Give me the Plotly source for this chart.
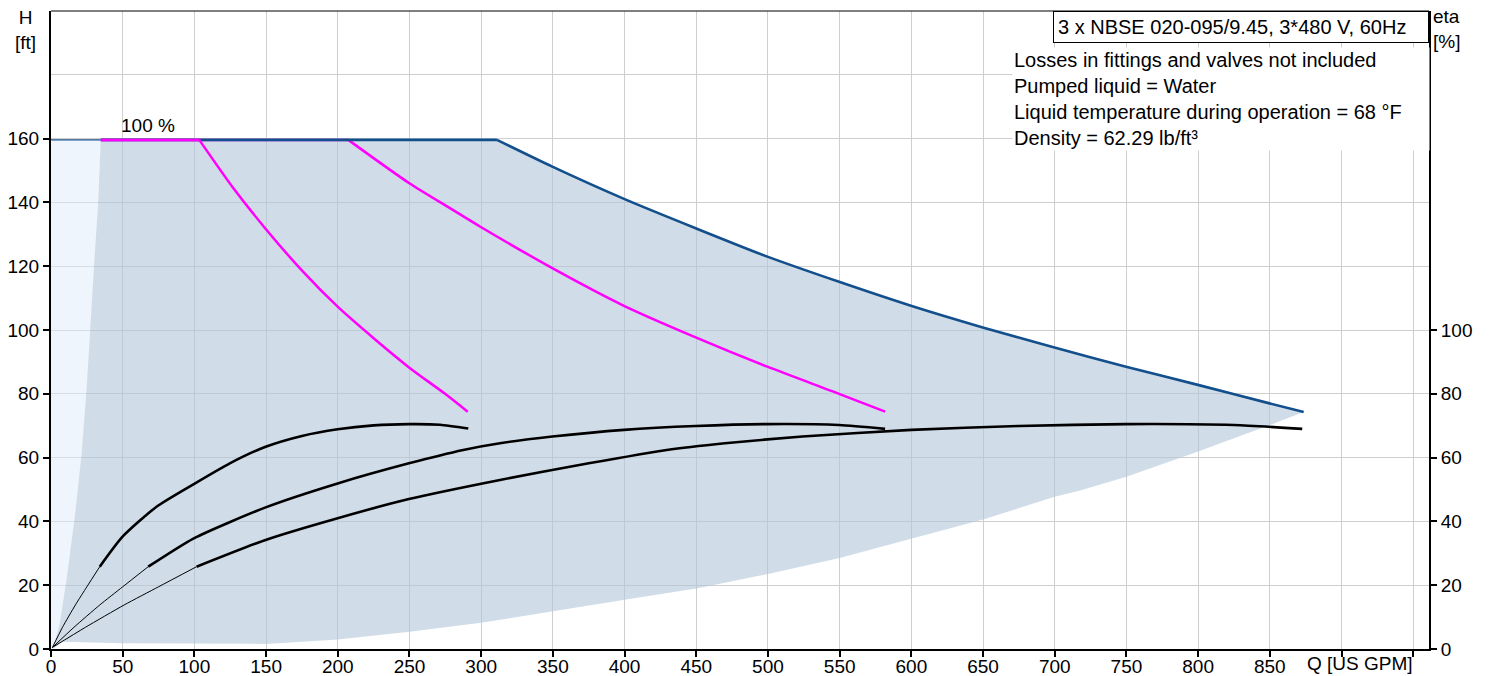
import plotly.graph_objects as go

# ---------------- data ----------------
# Max head curve, 3 pumps (dark blue)
q_max3 = [34.7, 311, 349.6, 399.6, 449.6, 499.6, 549.6, 599.7, 649.8, 699.8, 749.7, 799.8, 849.8, 873.6]
h_max3 = [159.6, 159.6, 151.2, 141.1, 131.9, 123.0, 115.1, 107.6, 100.8, 94.5, 88.5, 82.8, 77.0, 74.3]
q_max3_thin = [0, 34.7]
h_max3_thin = [159.6, 159.6]

# Head curves at 100 % speed, 1 and 2 pumps (magenta)
q_h1 = [34.7, 103.4, 127.1, 149.9, 175.9, 199.9, 224.8, 249.9, 274.8, 290.6]
h_h1 = [159.6, 159.6, 144.5, 131.6, 118.2, 107.3, 97.5, 88.2, 80.0, 74.4]
q_h2 = [34.7, 207.3, 249.9, 278.2, 299.7, 349.6, 399.6, 449.6, 499.6, 549.6, 581.7]
h_h2 = [159.6, 159.6, 146.0, 138.2, 132.3, 119.4, 107.6, 97.7, 88.5, 80.0, 74.4]

# Efficiency curves (eta, right axis): thin start + thick part
q_eta1_thin = [1, 8, 17, 25, 34]
e_eta1_thin = [0.5, 6.8, 13.8, 19.5, 25.8]
q_eta1 = [34, 49.9, 73.6, 99.6, 124.7, 149.7, 175, 199.9, 225, 249.6, 271.3, 291.0]
e_eta1 = [25.8, 35.2, 44.6, 51.7, 58.2, 63.4, 66.8, 68.9, 70.1, 70.5, 70.3, 69.1]

q_eta2_thin = [1, 16, 34, 50, 67.8]
e_eta2_thin = [0.5, 6.8, 13.8, 19.5, 25.8]
q_eta2 = [67.8, 99.6, 149.7, 199.9, 249.6, 287.5, 313.1, 349.6, 399.6, 449.6, 499.6, 549.6, 581.7]
e_eta2 = [25.8, 34.7, 44.4, 51.9, 58.2, 62.4, 64.5, 66.6, 68.7, 69.9, 70.5, 70.2, 69.0]

q_eta3_thin = [1, 24, 51, 75, 101.5]
e_eta3_thin = [0.5, 6.8, 13.8, 19.5, 25.8]
q_eta3 = [101.5, 149.7, 199.9, 249.6, 313.1, 375, 429.4, 470, 524, 600, 675, 750, 825, 872.6]
e_eta3 = [25.8, 34.2, 41.0, 47.0, 53.0, 58.2, 62.4, 64.5, 66.6, 68.7, 69.9, 70.5, 70.2, 69.0]

# Operating range (grey area): lower boundary (right to left) and left boundary (bottom to top)
q_low = [873.6, 850, 800, 750, 717, 700, 650, 592, 550, 500, 450, 400, 350, 300, 250, 200, 150, 100, 50, 8, 1.5]
h_low = [74.3, 70.2, 61.9, 54.0, 49.6, 47.7, 40.6, 33.6, 28.5, 23.5, 19.0, 15.4, 11.7, 8.2, 5.4, 3.0, 1.6, 1.6, 1.8, 2.3, 0]
q_left = [1.5, 6.1, 10.8, 16.6, 21.3, 24.7, 27.5, 30.6, 32.9, 34.7]
h_left = [0, 8.1, 21.6, 41.5, 61.0, 80.9, 100.7, 120.6, 140.4, 159.6]

# Axis ticks
x_ticks = list(range(0, 951, 50))
x_ticktext = [str(v) for v in range(0, 851, 50)] + ["", ""]
x_title = "Q [US GPM]"
y_ticks = list(range(0, 161, 20))
y2_ticks = list(range(0, 101, 20))

title_text = "3 x NBSE 020-095/9.45, 3*480 V, 60Hz"
info_lines = ["Losses in fittings and valves not included",
              "Pumped liquid = Water",
              "Liquid temperature during operation = 68 °F",
              "Density = 62.29 lb/ft³"]

# ---------------- figure ----------------
W, H = 1506, 676
ML, MR, MT, MB = 51, 77, 11, 27
PW, PH = W - ML - MR, H - MT - MB


def px2x(px):
    return (px - ML) / PW


def py2y(py):
    return (H - MB - py) / PH


FONT = "Liberation Sans, Arial, sans-serif"
BLUE = "#124f8c"
MAG = "#ff00ff"

fig = go.Figure()

# light blue area left of operating range
fig.add_trace(go.Scatter(
    x=[0, 0] + q_left[::-1], y=[0, h_max3_thin[0]] + h_left[::-1],
    fill="toself", fillcolor="rgba(221,235,251,0.5)", line=dict(width=0),
    mode="lines", hoverinfo="skip", showlegend=False))

# grey operating range
fig.add_trace(go.Scatter(
    x=q_max3 + q_low + q_left, y=h_max3 + h_low + h_left,
    fill="toself", fillcolor="rgba(177,197,215,0.6)", line=dict(width=0),
    mode="lines", hoverinfo="skip", showlegend=False))

# efficiency curves
for qt, et, q, e in [(q_eta1_thin, e_eta1_thin, q_eta1, e_eta1),
                     (q_eta2_thin, e_eta2_thin, q_eta2, e_eta2),
                     (q_eta3_thin, e_eta3_thin, q_eta3, e_eta3)]:
    fig.add_trace(go.Scatter(x=qt, y=et, yaxis="y2", mode="lines",
                             line=dict(color="black", width=1, shape="spline", smoothing=0.6),
                             showlegend=False))
    fig.add_trace(go.Scatter(x=q, y=e, yaxis="y2", mode="lines",
                             line=dict(color="black", width=2.6, shape="spline", smoothing=0.6),
                             showlegend=False))


def head_curve(q, h, color, width):
    # flat part (first two points) drawn straight, the falling part smoothed
    fig.add_trace(go.Scatter(x=q[:2], y=h[:2], mode="lines",
                             line=dict(color=color, width=width), showlegend=False))
    fig.add_trace(go.Scatter(x=q[1:], y=h[1:], mode="lines",
                             line=dict(color=color, width=width, shape="spline", smoothing=0.7),
                             showlegend=False))


head_curve(q_h2, h_h2, MAG, 2.5)
fig.add_trace(go.Scatter(x=q_max3_thin, y=h_max3_thin, mode="lines",
                         line=dict(color=BLUE, width=1.2), showlegend=False))
head_curve(q_max3, h_max3, BLUE, 2.6)
head_curve(q_h1, h_h1, MAG, 2.5)

axis_common = dict(showline=True, linecolor="black", linewidth=2,
                   ticks="outside", ticklen=6, tickwidth=2, tickcolor="black",
                   tickfont=dict(family=FONT, size=19, color="black"),
                   zeroline=False, automargin=False, fixedrange=True)

fig.update_layout(
    width=W, height=H, template="none",
    margin=dict(l=ML, r=MR, t=MT, b=MB, pad=0),
    paper_bgcolor="white", plot_bgcolor="white",
    font=dict(family=FONT, size=19, color="black"),
    showlegend=False,
    xaxis=dict(range=[0, 961], tickmode="array", tickvals=x_ticks, ticktext=x_ticktext,
               showgrid=True, gridcolor="#cfcfcf", gridwidth=1, ticklabelstandoff=-7,
               **axis_common),
    yaxis=dict(range=[0, 200], tickmode="array", tickvals=y_ticks,
               showgrid=True, gridcolor="#cfcfcf", gridwidth=1,
               minor=dict(tickvals=[180], showgrid=True, gridcolor="#cfcfcf", gridwidth=1, ticks=""),
               **axis_common),
    yaxis2=dict(range=[0, 200], overlaying="y", side="right", tickmode="array",
                tickvals=y2_ticks, showgrid=False, **axis_common),
)

# top border of plot area
fig.add_shape(type="line", xref="paper", yref="paper", x0=0, x1=1, y0=1, y1=1,
              line=dict(color="black", width=1))

annotations = [
    dict(text="H<br>[ft]", xref="paper", yref="paper", x=px2x(25), y=py2y(5),
         xanchor="center", yanchor="top", showarrow=False, align="center",
         font=dict(family=FONT, size=19)),
    dict(text="eta<br>[%]", xref="paper", yref="paper", x=px2x(1431), y=py2y(4),
         xanchor="left", yanchor="top", showarrow=False, align="left",
         font=dict(family=FONT, size=19)),
    dict(text=title_text, xref="paper", yref="paper", x=1, y=1,
         xanchor="right", yanchor="top", showarrow=False, align="left",
         bgcolor="white", bordercolor="black", borderwidth=1, borderpad=4,
         width=366, font=dict(family=FONT, size=20)),
    dict(text="<br>".join(info_lines), xref="paper", yref="paper",
         x=px2x(1012), y=py2y(47), xanchor="left", yanchor="top", showarrow=False,
         align="left", bgcolor="white", borderpad=1, width=414,
         font=dict(family=FONT, size=20)),
    dict(text="100 %", x=67.8, y=159.6, xref="x", yref="y", xanchor="center",
         yanchor="bottom", yshift=2, showarrow=False, font=dict(family=FONT, size=19)),
    dict(text=x_title, x=x_ticks[-1], y=0, xref="x", yref="paper", xanchor="right",
         yanchor="top", yshift=-2, xshift=2, showarrow=False, font=dict(family=FONT, size=19)),
]
fig.update_layout(annotations=annotations)

fig.write_html("out.html", config={"displayModeBar": False},
               post_script="document.body.style.margin='0';document.body.style.overflow='hidden';")
